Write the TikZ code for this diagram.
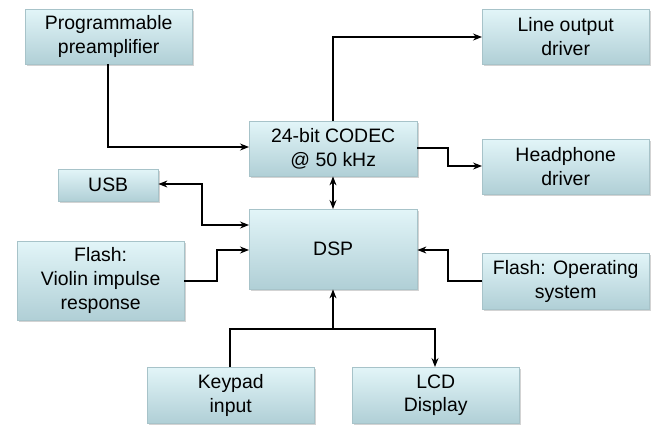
\documentclass[tikz,border=0pt]{standalone}
\usepackage{fontspec}
\setmainfont{Liberation Sans}
\usetikzlibrary{shadows,arrows.meta}
\definecolor{boxtop}{HTML}{E2F5F8}
\definecolor{boxbot}{HTML}{B0CFD6}
\definecolor{boxedge}{HTML}{A7C3C9}
\tikzset{
  blk/.style={draw=boxedge, line width=0.4pt, top color=boxtop, bottom color=boxbot,
    drop shadow={opacity=0.35, shadow xshift=1.5pt, shadow yshift=-1.5pt},
    font=\fontsize{19.5}{24}\selectfont, align=center, inner sep=0pt},
  conn/.style={line width=1.2pt, -{Stealth[length=9pt,width=7pt]}},
  conn2/.style={line width=1.2pt, {Stealth[length=9pt,width=7pt]}-{Stealth[length=9pt,width=7pt]}},
  plain/.style={line width=1.2pt}
}
\newcommand{\blkbox}[6]{%
  \node[blk, minimum width={#4bp-#2bp}, minimum height={#5bp-#3bp}, anchor=north west] (#1) at (#2,#3) {#6};}
\begin{document}
\begin{tikzpicture}[x=1bp,y=-1bp]
\useasboundingbox (0,0) rectangle (657,425);
\blkbox{pre}{25}{9}{192}{64}{Programmable\\preamplifier}
\blkbox{line}{482}{9}{649}{64}{Line output\\driver}
\blkbox{codec}{249}{121}{417}{176}{24-bit CODEC\\@ 50 kHz}
\blkbox{head}{482}{139}{649}{194}{Headphone\\driver}
\blkbox{usb}{58}{169}{158}{201}{USB}
\blkbox{dsp}{249}{209}{417}{289}{DSP}
\blkbox{vio}{17}{241}{184}{320}{Flash:\\Violin impulse\\response}
\blkbox{os}{482}{253}{649}{309}{Flash: Operating\\system}
\blkbox{key}{147}{367}{314}{423}{Keypad\\input}
\blkbox{lcd}{352}{367}{519}{423}{LCD\\Display}
% connectors
\draw[conn] (pre.south -| 108,0) |- (codec.west |- 0,147);
\draw[conn] (codec.north -| 333,0) |- (line.west |- 0,37);
\draw[conn] (codec.east |- 0,148) -- (448,148) |- (head.west |- 0,166);
\draw[conn2] (codec.south -| 333,0) -- (dsp.north -| 333,0);
\draw[conn2] (dsp.west |- 0,225) -- (202,225) |- (usb.east |- 0,184);
\draw[conn] (vio.east |- 0,281) -- (217,281) |- (dsp.west |- 0,250);
\draw[conn] (os.west |- 0,281) -- (448,281) |- (dsp.east |- 0,250);
\coordinate (j) at (333,329);
\draw[plain] (key.north -| 230,0) |- (j);
\draw[conn] (j) -- (dsp.south -| j);
\draw[conn] (j) -| (lcd.north -| 435,0);
\end{tikzpicture}
\end{document}
